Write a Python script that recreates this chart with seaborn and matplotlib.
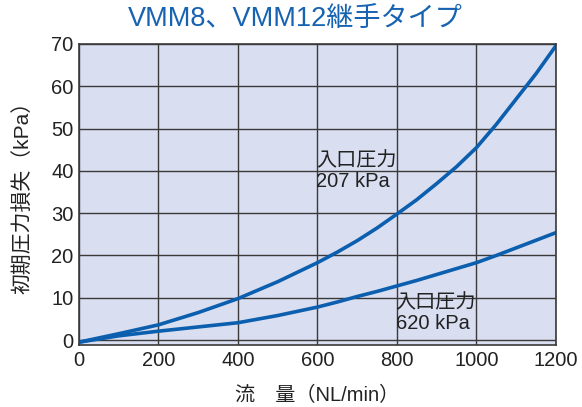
import pandas as pd
import seaborn as sns
import matplotlib.pyplot as plt

# Flow rate (NL/min) and initial pressure loss (kPa)
flow = [0, 100, 200, 300, 400, 500, 600, 650, 700, 750, 800, 850, 900,
        950, 1000, 1050, 1100, 1150, 1200]
loss_207 = [-0.5, 1.5, 3.6, 6.5, 9.8, 13.8, 18.3, 20.8, 23.5, 26.5, 29.8,
            33.2, 37.0, 41.0, 45.5, 51.0, 57.0, 63.0, 69.6]
loss_620 = [-0.5, 1.0, 2.1, 3.1, 4.1, 5.8, 7.8, 9.0, 10.3, 11.5, 12.8,
            14.1, 15.5, 16.9, 18.3, 20.0, 21.8, 23.6, 25.4]

x_ticks = [0, 200, 400, 600, 800, 1000, 1200]
y_ticks = [0, 10, 20, 30, 40, 50, 60, 70]

df = pd.DataFrame({'flow': flow * 2,
                   'loss': loss_207 + loss_620,
                   'inlet': ['207'] * len(flow) + ['620'] * len(flow)})

sns.set_theme(style="white")
plt.rcParams['font.family'] = ['Liberation Sans', 'Noto Sans CJK JP', 'DejaVu Sans']

blue = '#0b5fae'
fig = plt.figure(figsize=(5.82, 4.07), dpi=100)
ax = fig.add_axes([0.1357, 0.152, 0.8196, 0.740])
ax.set_facecolor('#d9def0')

sns.lineplot(data=df, x='flow', y='loss', hue='inlet', palette=[blue, blue],
             linewidth=2.6, legend=False, ax=ax, estimator=None, sort=False)

ax.set_xlim(0, 1200)
ax.set_ylim(-1.2, 70)
ax.set_xticks(x_ticks)
ax.set_yticks(y_ticks)
ax.tick_params(axis='both', length=0, labelsize=14.5, colors='#222222', pad=4)
ax.grid(True, color='#3a3a3a', linewidth=1.0)
ax.set_axisbelow(True)
for s in ax.spines.values():
    s.set_color('#3a3a3a')
    s.set_linewidth(1.2)

ax.set_xlabel('流　量（NL/min）', fontsize=14.5, color='#222222')
ax.set_ylabel('初期圧力損失（kPa）', fontsize=15, color='#222222')
ax.xaxis.set_label_coords(0.5, -0.135)
ax.yaxis.set_label_coords(-0.095, 0.507)
fig.text(0.508, 0.953, 'VMM8、VMM12継手タイプ', fontsize=19.5,
         color='#1763b1', ha='center', va='center')

ax.text(597, 44.6, '入口圧力\n207 kPa', fontsize=14.5, color='#222222',
        va='top', ha='left', linespacing=1.1)
ax.text(797, 11.0, '入口圧力\n620 kPa', fontsize=14.5, color='#222222',
        va='top', ha='left', linespacing=1.1)

plt.savefig('out.png', dpi=100)
